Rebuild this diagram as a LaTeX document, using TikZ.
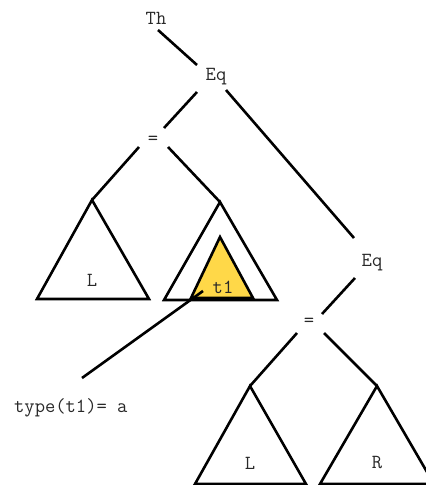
\documentclass[tikz,border=0pt]{standalone}
\definecolor{leafyellow}{RGB}{255,216,72}
\definecolor{labelgray}{RGB}{40,40,40}
\begin{document}
\begin{tikzpicture}[x=1pt,y=-1pt,
  lbl/.style={font=\ttfamily\fontsize{20}{20}\selectfont, text=labelgray, inner sep=0pt},
  edge/.style={line width=2.6pt},
  subtree/.style={line width=2.6pt, line join=miter},
  hilite/.style={line width=2.6pt, line join=miter, fill=leafyellow}]
\useasboundingbox (0,0) rectangle (426,485);
\clip (0,0) rectangle (426,485);

% labels
\node[lbl] (th)   at (156,18)  {Th};
\node[lbl] (eqa)  at (216,77)  {Eq};
\node[lbl] (eqla) at (153,140) {=};
\node[lbl] (eqb)  at (372,263) {Eq};
\node[lbl] (eqlb) at (309,322) {=};
\node[lbl, anchor=west] (ty) at (14,408) {type(t1)= a};

% edge end points
\coordinate (thS)  at (158,30);
\coordinate (eqaN) at (197,65);
\coordinate (eqaW) at (197,92);
\coordinate (eqaE) at (226,90);
\coordinate (laN)  at (164,128);
\coordinate (laW)  at (139,147);
\coordinate (laE)  at (168,147);
\coordinate (eqbN) at (354,238);
\coordinate (eqbW) at (355,278);
\coordinate (lbN)  at (322,314);
\coordinate (lbW)  at (297,333);
\coordinate (lbE)  at (324,333);
\coordinate (tyN)  at (82,378);
\coordinate (tA)   at (203,291);

% subtree apexes
\coordinate (ta) at (92,200);
\coordinate (tb) at (220,202);
\coordinate (tc) at (220,237);
\coordinate (td) at (250,386);
\coordinate (te) at (377,386);

% subtrees
\draw[subtree] (ta) -- (37,299) -- (149,299) -- cycle;
\node[lbl] (la) at (92,280) {L};
\draw[subtree] (tb) -- (164,300) -- (277,300) -- cycle;
\draw[hilite] (tc) -- (191,298) -- (253,298) -- cycle;
\node[lbl] (t1) at (223,287) {t1};
\draw[subtree] (td) -- (195,484) -- (306,484) -- cycle;
\node[lbl] (ld) at (250,463) {L};
\draw[subtree] (te) -- (320,484) -- (434,484) -- cycle;
\node[lbl] (re) at (377,463) {R};

% edges
\draw[edge] (thS) -- (eqaN);
\draw[edge] (eqaW) -- (laN);
\draw[edge] (eqaE) -- (eqbN);
\draw[edge] (laW) -- (ta);
\draw[edge] (laE) -- (tb);
\draw[edge] (eqbW) -- (lbN);
\draw[edge] (lbW) -- (td);
\draw[edge] (lbE) -- (te);
\draw[edge] (tyN) -- (tA);
\end{tikzpicture}
\end{document}
